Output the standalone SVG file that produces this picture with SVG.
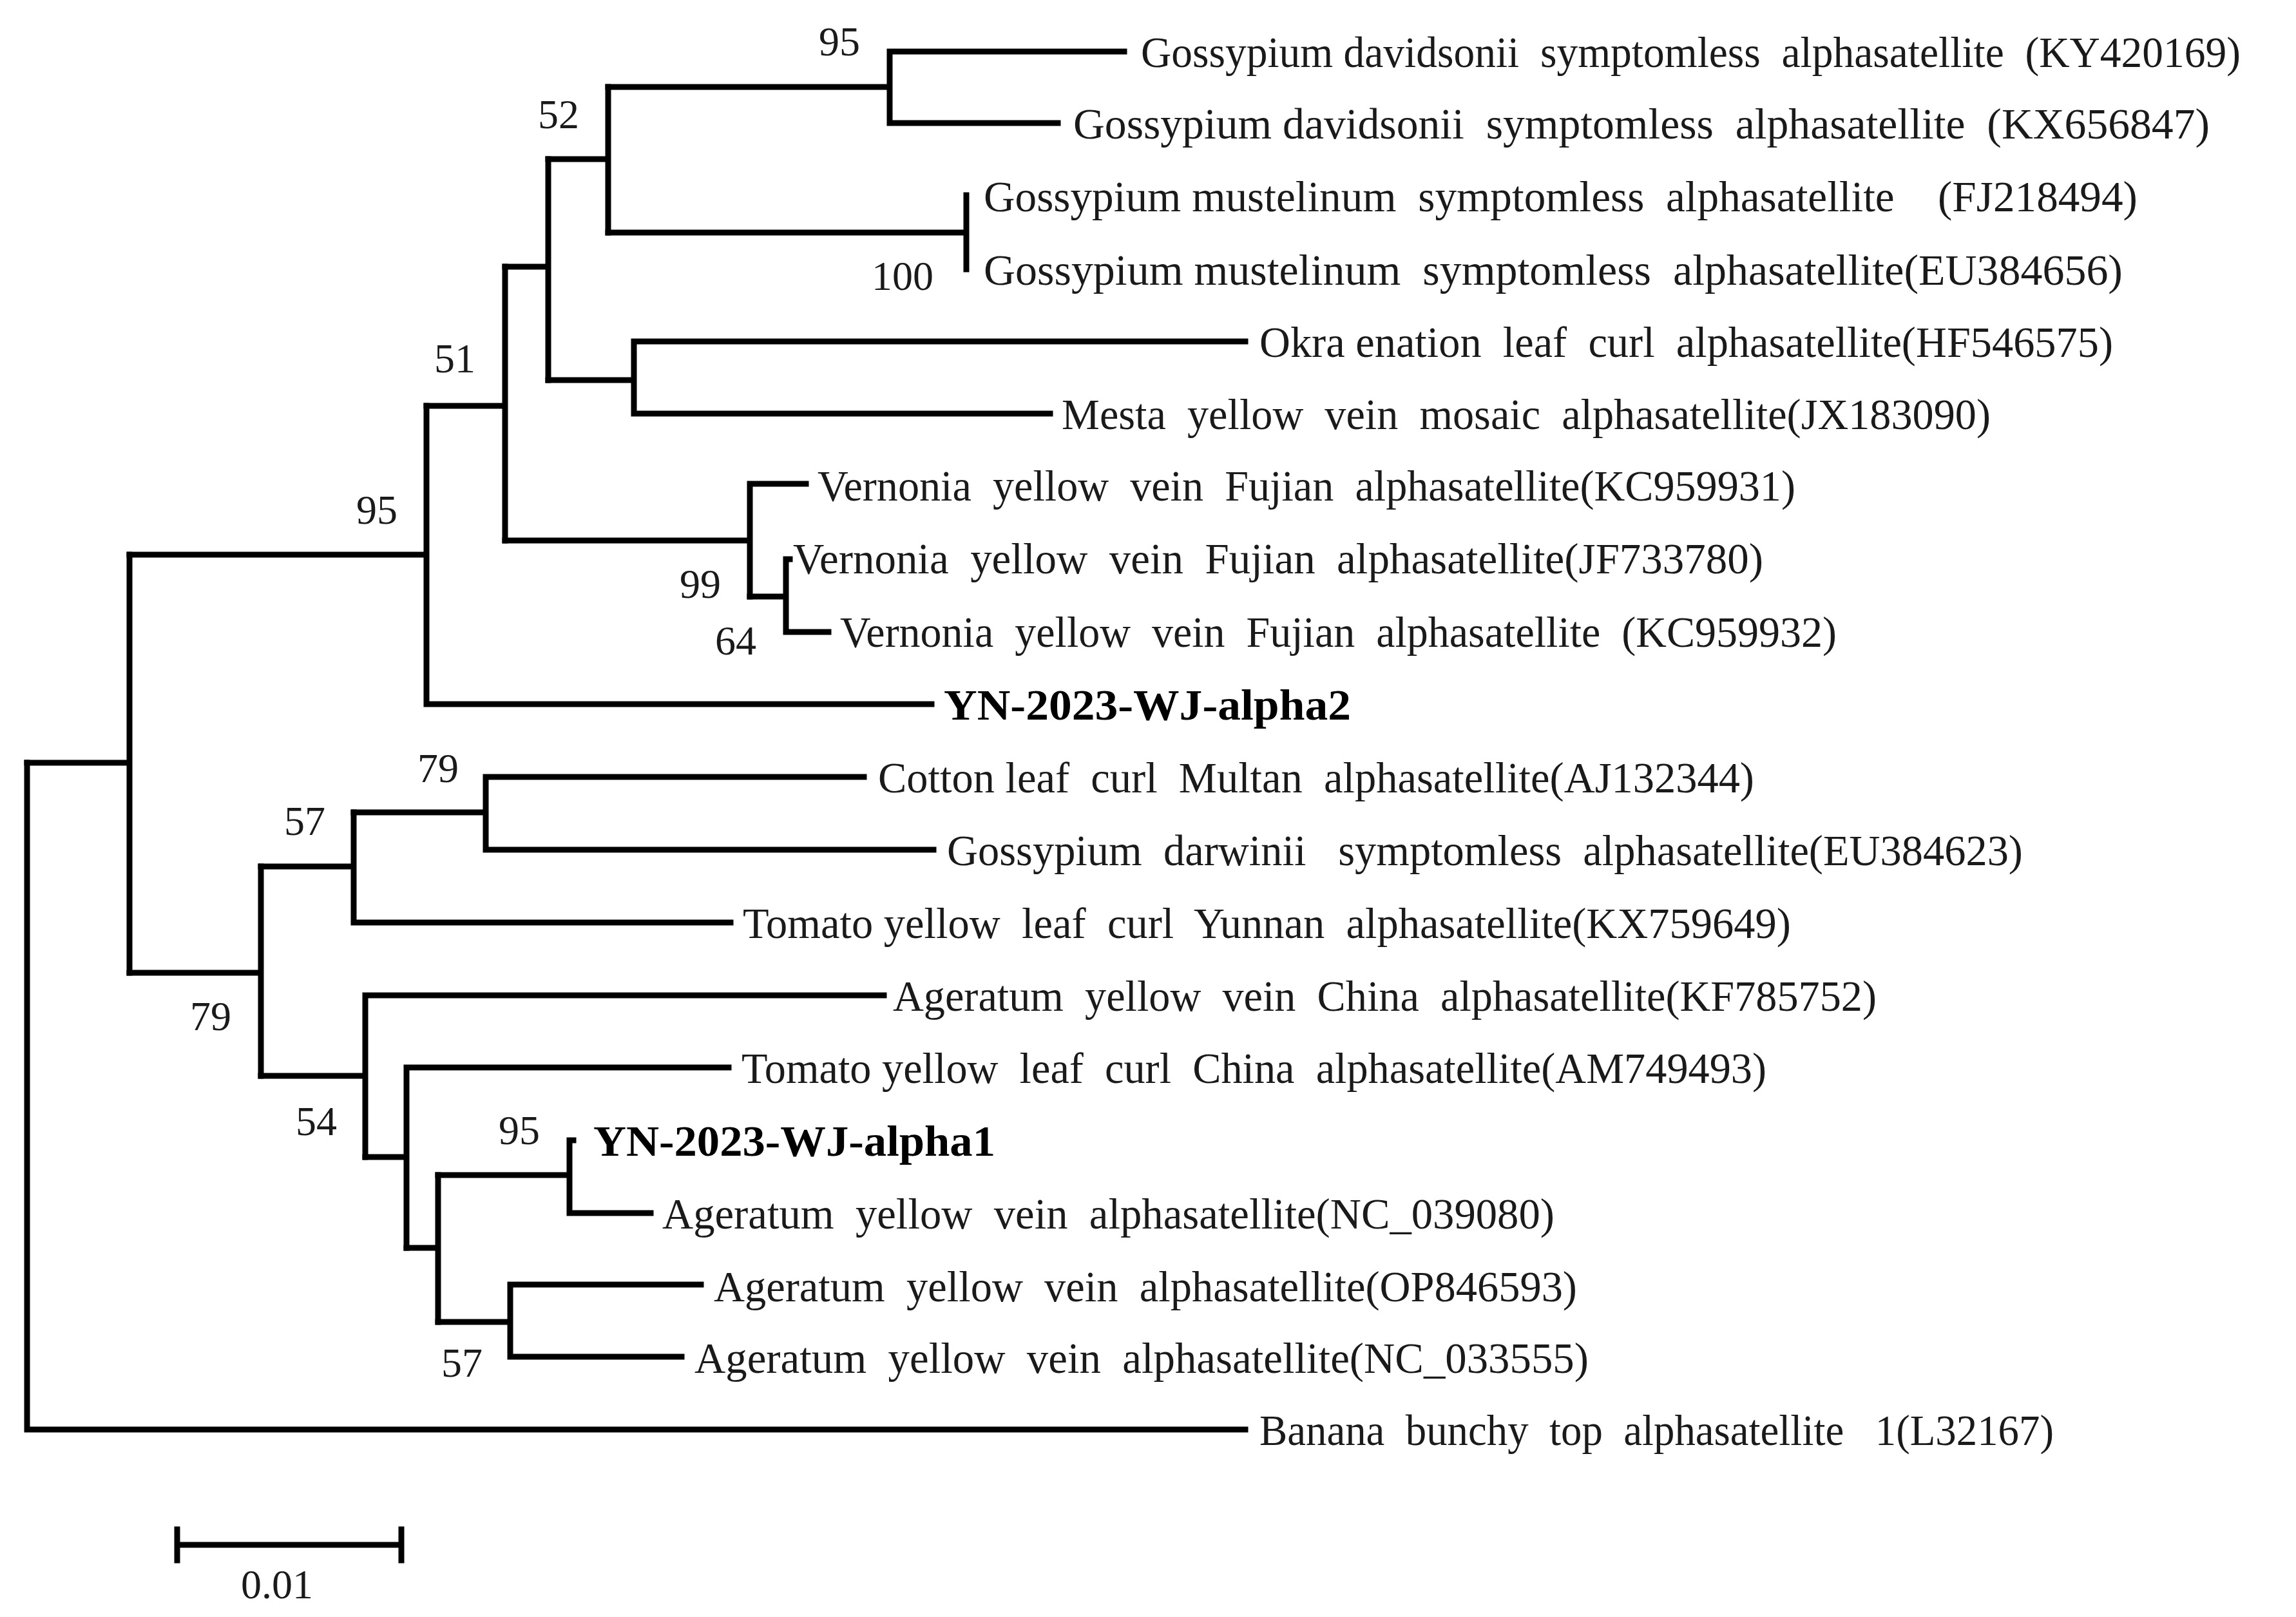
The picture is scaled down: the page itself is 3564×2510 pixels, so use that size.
<svg xmlns="http://www.w3.org/2000/svg" width="3564" height="2510" viewBox="0 0 3564 2510">
<style>
.e{fill:none;stroke:#000;stroke-width:9;stroke-linecap:square}
.t{font-family:"Liberation Serif",serif;font-size:68px;fill:#1a1a1a}
.b{font-weight:bold;fill:#000}
.n{font-family:"Liberation Serif",serif;font-size:64px;fill:#1a1a1a;text-anchor:middle}
</style>
<rect width="3564" height="2510" fill="#fff"/>
<g id="connectors" class="e">
<path d="M42,1184V2219H1933"/>
<path d="M42,1184H201M201,861V1510"/>
<path d="M201,861H662M662,630V1093H1446"/>
<path d="M662,630H784M784,414V839"/>
<path d="M784,414H851M851,247V590"/>
<path d="M851,247H944M944,135V361"/>
<path d="M944,135H1381M1381,80V191M1381,80H1745M1381,191H1642"/>
<path d="M944,361H1500M1500,303V418"/>
<path d="M851,590H984M984,530V642M984,530H1933M984,642H1630"/>
<path d="M784,839H1164M1164,751V926M1164,751H1251"/>
<path d="M1164,926H1220M1220,868V981M1220,868H1226M1220,981H1286"/>
<path d="M201,1510H405M405,1345V1670"/>
<path d="M405,1345H549M549,1261V1432H1134"/>
<path d="M549,1261H754M754,1206V1319M754,1206H1341M754,1319H1449"/>
<path d="M405,1670H567M567,1545V1796M567,1545H1372"/>
<path d="M567,1796H631M631,1657V1937M631,1657H1131"/>
<path d="M631,1937H680M680,1824V2052"/>
<path d="M680,1824H884M884,1770V1883M884,1770H890M884,1883H1010"/>
<path d="M680,2052H792M792,1994V2106M792,1994H1088M792,2106H1058"/>
</g>
<g id="labels" class="t">
<text id="l0" x="1771" y="104" textLength="1707" lengthAdjust="spacingAndGlyphs" xml:space="preserve">Gossypium davidsonii  symptomless  alphasatellite  (KY420169)</text>
<text id="l1" x="1666" y="215" textLength="1764" lengthAdjust="spacingAndGlyphs" xml:space="preserve">Gossypium davidsonii  symptomless  alphasatellite  (KX656847)</text>
<text id="l2" x="1527" y="328" textLength="1791" lengthAdjust="spacingAndGlyphs" xml:space="preserve">Gossypium mustelinum  symptomless  alphasatellite    (FJ218494)</text>
<text id="l3" x="1527" y="442" textLength="1768" lengthAdjust="spacingAndGlyphs" xml:space="preserve">Gossypium mustelinum  symptomless  alphasatellite(EU384656)</text>
<text id="l4" x="1955" y="554" textLength="1325" lengthAdjust="spacingAndGlyphs" xml:space="preserve">Okra enation  leaf  curl  alphasatellite(HF546575)</text>
<text id="l5" x="1648" y="666" textLength="1442" lengthAdjust="spacingAndGlyphs" xml:space="preserve">Mesta  yellow  vein  mosaic  alphasatellite(JX183090)</text>
<text id="l6" x="1269" y="777" textLength="1518" lengthAdjust="spacingAndGlyphs" xml:space="preserve">Vernonia  yellow  vein  Fujian  alphasatellite(KC959931)</text>
<text id="l7" x="1231" y="890" textLength="1506" lengthAdjust="spacingAndGlyphs" xml:space="preserve">Vernonia  yellow  vein  Fujian  alphasatellite(JF733780)</text>
<text id="l8" x="1304" y="1004" textLength="1547" lengthAdjust="spacingAndGlyphs" xml:space="preserve">Vernonia  yellow  vein  Fujian  alphasatellite  (KC959932)</text>
<text id="l9" class="b" x="1465" y="1117" textLength="632" lengthAdjust="spacingAndGlyphs">YN-2023-WJ-alpha2</text>
<text id="l10" x="1363" y="1230" textLength="1360" lengthAdjust="spacingAndGlyphs" xml:space="preserve">Cotton leaf  curl  Multan  alphasatellite(AJ132344)</text>
<text id="l11" x="1470" y="1343" textLength="1670" lengthAdjust="spacingAndGlyphs" xml:space="preserve">Gossypium  darwinii   symptomless  alphasatellite(EU384623)</text>
<text id="l12" x="1153" y="1456" textLength="1627" lengthAdjust="spacingAndGlyphs" xml:space="preserve">Tomato yellow  leaf  curl  Yunnan  alphasatellite(KX759649)</text>
<text id="l13" x="1386" y="1569" textLength="1527" lengthAdjust="spacingAndGlyphs" xml:space="preserve">Ageratum  yellow  vein  China  alphasatellite(KF785752)</text>
<text id="l14" x="1151" y="1681" textLength="1591" lengthAdjust="spacingAndGlyphs" xml:space="preserve">Tomato yellow  leaf  curl  China  alphasatellite(AM749493)</text>
<text id="l15" class="b" x="921" y="1794" textLength="624" lengthAdjust="spacingAndGlyphs">YN-2023-WJ-alpha1</text>
<text id="l16" x="1028" y="1907" textLength="1385" lengthAdjust="spacingAndGlyphs" xml:space="preserve">Ageratum  yellow  vein  alphasatellite(NC_039080)</text>
<text id="l17" x="1108" y="2020" textLength="1340" lengthAdjust="spacingAndGlyphs" xml:space="preserve">Ageratum  yellow  vein  alphasatellite(OP846593)</text>
<text id="l18" x="1078" y="2131" textLength="1388" lengthAdjust="spacingAndGlyphs" xml:space="preserve">Ageratum  yellow  vein  alphasatellite(NC_033555)</text>
<text id="l19" x="1955" y="2243" textLength="1233" lengthAdjust="spacingAndGlyphs" xml:space="preserve">Banana  bunchy  top  alphasatellite   1(L32167)</text>
</g>
<g id="bootstrap" class="n">
<text x="1303" y="86">95</text>
<text x="867" y="199">52</text>
<text x="1401" y="450">100</text>
<text x="706" y="578">51</text>
<text x="585" y="813">95</text>
<text x="1087" y="928">99</text>
<text x="1142" y="1016">64</text>
<text x="680" y="1214">79</text>
<text x="473" y="1296">57</text>
<text x="327" y="1599">79</text>
<text x="491" y="1762">54</text>
<text x="806" y="1776">95</text>
<text x="717" y="2137">57</text>
</g>
<g id="scalebar">
<path class="e" d="M275,2398H623M275,2374V2422M623,2374V2422"/>
<text class="n" x="430" y="2481">0.01</text>
</g>
</svg>
